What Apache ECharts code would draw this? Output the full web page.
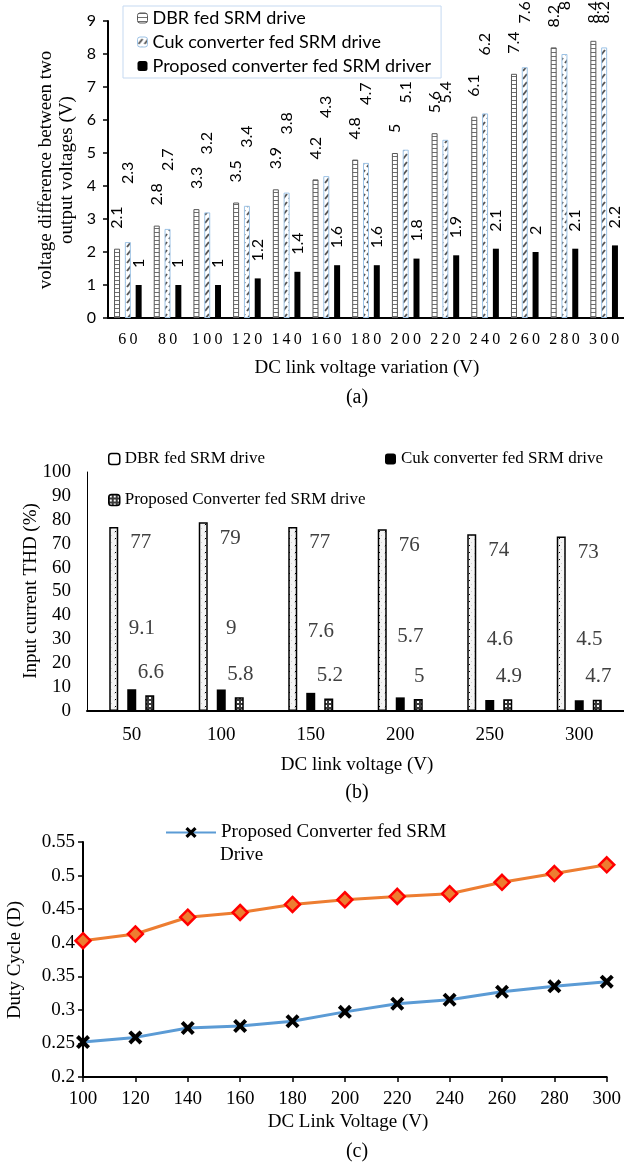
<!DOCTYPE html>
<html>
<head>
<meta charset="utf-8">
<script src="https://cdn.jsdelivr.net/npm/echarts@6/dist/echarts.min.js"></script>
<style>
html,body{margin:0;padding:0;background:#fff;}
#c{width:624px;height:1166px;}
</style>
</head>
<body>
<div id="c"></div>
<script>
// ---------- Data ----------
// (a) voltage difference between two output voltages
const catsA = ['60','80','100','120','140','160','180','200','220','240','260','280','300'];
const dbrA  = [2.1, 2.8, 3.3, 3.5, 3.9, 4.2, 4.8, 5, 5.6, 6.1, 7.4, 8.2, 8.4];
const cukA  = [2.3, 2.7, 3.2, 3.4, 3.8, 4.3, 4.7, 5.1, 5.4, 6.2, 7.6, 8, 8.2];
const propA = [1, 1, 1, 1.2, 1.4, 1.6, 1.6, 1.8, 1.9, 2.1, 2, 2.1, 2.2];
const namesA = ['DBR fed SRM drive', 'Cuk converter fed SRM drive', 'Proposed converter fed SRM driver'];

// (b) input current THD
const catsB = ['50','100','150','200','250','300'];
const dbrB  = [77, 79, 77, 76, 74, 73];
const cukB  = [9.1, 9, 7.6, 5.7, 4.6, 4.5];
const propB = [6.6, 5.8, 5.2, 5, 4.9, 4.7];
const namesB = ['DBR fed SRM drive', 'Cuk converter fed SRM drive', 'Proposed Converter fed SRM drive'];

// (c) duty cycle
const catsC = ['100','120','140','160','180','200','220','240','260','280','300'];
const dutyProposed = [0.252, 0.259, 0.273, 0.276, 0.283, 0.297, 0.309, 0.315, 0.327, 0.335, 0.342];
const dutyOther    = [0.403, 0.413, 0.438, 0.445, 0.457, 0.464, 0.469, 0.473, 0.490, 0.503, 0.516];
const nameC1 = 'Proposed Converter fed SRM Drive';
const nameC2 = 'Series 2';

// ---------- Patterns ----------
function pat(w, h, draw) {
  const c = document.createElement('canvas');
  c.width = w; c.height = h;
  const g = c.getContext('2d');
  draw(g);
  return { image: c, repeat: 'repeat' };
}
const patDbrA = pat(6, 4, g => { g.fillStyle = '#fff'; g.fillRect(0,0,6,4); g.fillStyle = '#6e6e6e'; g.fillRect(0,0,6,1); });
const patCukA = pat(6, 8, g => { g.fillStyle = '#fff'; g.fillRect(0,0,6,8); g.strokeStyle = '#555'; g.lineWidth = 2; g.beginPath(); g.moveTo(1,7); g.lineTo(5,2); g.stroke(); });
const patDbrB = pat(6, 7, g => { g.fillStyle = '#f4f4f4'; g.fillRect(0,0,6,7); g.fillStyle = '#cfcfcf'; g.fillRect(0,0,1,1); g.fillRect(3,3,1,1); g.fillStyle = '#000'; g.fillRect(1,6,1,1); });
const patPropB = pat(4, 4, g => { g.fillStyle = '#3a3a3a'; g.fillRect(0,0,4,4); g.fillStyle = '#fff'; g.fillRect(1,1,2,2); });

// ---------- Label placement helpers for (a) ----------
const gridA = { left: 108, top: 21, width: 520, height: 297 };
const maxA = 9;
const legendABottom = 80, legendARight = 450;
function yPxA(v) { return gridA.top + (maxA - v) * gridA.height / maxA; }
function xPxA(i) { return gridA.left + (i + 0.5) * gridA.width / catsA.length; }
function labLen(v) { const s = String(v); let l = 0; for (const ch of s) l += (ch === '.') ? 4 : 9.3; return l; }
function dataA(arr, gap) {
  return arr.map((v, i) => {
    const minTop = xPxA(i) < legendARight ? legendABottom : 0;
    const d = Math.max(2, Math.min(gap, yPxA(v) - labLen(v) - minTop - 1));
    return { value: v, label: { distance: d } };
  });
}

const serif = 'Liberation Serif';
const sans = 'Lato';

const labelA = { show: true, position: 'top', rotate: 90, align: 'left', verticalAlign: 'middle', fontFamily: sans, fontSize: 16, color: '#000' };
const labelB = { show: true, position: 'top', distance: 0, align: 'center', verticalAlign: 'middle', fontFamily: serif, fontSize: 21, color: '#404040' };

const option = {
  animation: false,
  backgroundColor: '#fff',
  grid: [
    { left: gridA.left, top: gridA.top, width: gridA.width, height: gridA.height },
    { left: 87, top: 472, width: 540, height: 239 },
    { left: 83, top: 842, width: 527, height: 235 }
  ],
  xAxis: [
    { gridIndex: 0, type: 'category', data: catsA,
      axisLine: { lineStyle: { color: '#000', width: 2 } }, axisTick: { show: false },
      axisLabel: { fontFamily: serif, fontSize: 16, color: '#000', margin: 14, formatter: v => v.split('').join('\u2009') } },
    { gridIndex: 1, type: 'category', data: catsB,
      axisLine: { lineStyle: { color: '#000', width: 2 } }, axisTick: { show: false },
      axisLabel: { fontFamily: serif, fontSize: 19, color: '#000', margin: 15 } },
    { gridIndex: 2, type: 'category', data: catsC, boundaryGap: false,
      axisLine: { lineStyle: { color: '#000', width: 2 } },
      axisTick: { show: true, length: 5, lineStyle: { color: '#000', width: 1.5 } },
      axisLabel: { fontFamily: serif, fontSize: 19, color: '#000', margin: 13 } }
  ],
  yAxis: [
    { gridIndex: 0, type: 'value', min: 0, max: 9, interval: 1,
      splitLine: { show: false },
      axisLine: { show: true, lineStyle: { color: '#000', width: 2 } },
      axisTick: { show: true, length: 5, lineStyle: { color: '#000', width: 1.5 } },
      axisLabel: { fontFamily: sans, fontSize: 16, color: '#000', margin: 12 } },
    { gridIndex: 1, type: 'value', min: 0, max: 100, interval: 10,
      splitLine: { show: false },
      axisLine: { show: true, lineStyle: { color: '#000', width: 1 } },
      axisTick: { show: false },
      axisLabel: { fontFamily: serif, fontSize: 19, color: '#000', margin: 16 } },
    { gridIndex: 2, type: 'value', min: 0.2, max: 0.55, interval: 0.05,
      splitLine: { show: false },
      axisLine: { show: true, lineStyle: { color: '#000', width: 2 } },
      axisTick: { show: true, length: 5, lineStyle: { color: '#000', width: 1.5 } },
      axisLabel: { fontFamily: serif, fontSize: 19, color: '#000', margin: 8 } }
  ],
  legend: [
    { orient: 'vertical', left: 123, top: 6, padding: [3, 10, 3, 14], itemGap: 6,
      itemWidth: 10, itemHeight: 10, backgroundColor: '#fff', borderColor: '#c5d9f1', borderWidth: 1,
      textStyle: { fontFamily: sans, fontSize: 18, color: '#000', lineHeight: 18 },
      data: namesA.map((n, i) => ({ name: n, itemStyle: [
        { color: patDbrA, borderColor: '#595959', borderWidth: 1 },
        { color: patCukA, borderColor: '#9dc3e6', borderWidth: 1 },
        { color: '#000', borderWidth: 0 }][i] })) },
    { orient: 'vertical', left: 108, top: 450, padding: 0, itemGap: 23,
      itemWidth: 11, itemHeight: 11,
      textStyle: { fontFamily: serif, fontSize: 17, color: '#000', lineHeight: 18 },
      data: [
        { name: namesB[0], itemStyle: { color: '#fff', borderColor: '#000', borderWidth: 1.5 } },
        { name: namesB[2], itemStyle: { color: patPropB, borderColor: '#000', borderWidth: 1.5 } }
      ] },
    { orient: 'vertical', left: 385, top: 450, padding: 0,
      itemWidth: 11, itemHeight: 11,
      textStyle: { fontFamily: serif, fontSize: 17, color: '#000', lineHeight: 18 },
      data: [ { name: namesB[1], itemStyle: { color: '#000', borderWidth: 0 } } ] },
    { orient: 'horizontal', left: 165, top: 823, padding: 0,
      itemWidth: 50, itemHeight: 14,
      textStyle: { fontFamily: serif, fontSize: 19, color: '#000', lineHeight: 18 },
      formatter: () => 'Proposed Converter fed SRM',
      data: [ { name: nameC1 } ] }
  ],
  series: [
    // (a)
    { name: namesA[0], type: 'bar', xAxisIndex: 0, yAxisIndex: 0, barWidth: 6, barGap: '80%',
      itemStyle: { color: patDbrA, borderColor: '#595959', borderWidth: 1 },
      label: labelA, data: dataA(dbrA, 20) },
    { name: namesA[1], type: 'bar', xAxisIndex: 0, yAxisIndex: 0, barWidth: 6, barGap: '80%',
      itemStyle: { color: patCukA, borderColor: '#9dc3e6', borderWidth: 1 },
      label: labelA, data: dataA(cukA, 58) },
    { name: namesA[2], type: 'bar', xAxisIndex: 0, yAxisIndex: 0, barWidth: 6, barGap: '80%',
      itemStyle: { color: '#000' },
      label: labelA, data: dataA(propA, 17) },
    // (b)
    { name: namesB[0], type: 'bar', xAxisIndex: 1, yAxisIndex: 1, barWidth: 9, barGap: '100%',
      itemStyle: { color: patDbrB, borderColor: '#000', borderWidth: 1.5 },
      label: Object.assign({}, labelB, { offset: [27, 16] }), data: dbrB },
    { name: namesB[1], type: 'bar', xAxisIndex: 1, yAxisIndex: 1, barWidth: 9, barGap: '100%',
      itemStyle: { color: '#000' },
      label: Object.assign({}, labelB, { offset: [10, -61] }), data: cukB },
    { name: namesB[2], type: 'bar', xAxisIndex: 1, yAxisIndex: 1, barWidth: 9, barGap: '100%',
      itemStyle: { color: patPropB, borderColor: '#000', borderWidth: 1.5 },
      label: Object.assign({}, labelB, { offset: [1, -23] }), data: propB },
    // (c)
    { name: nameC1, type: 'line', xAxisIndex: 2, yAxisIndex: 2, data: dutyProposed,
      lineStyle: { color: '#5b9bd5', width: 3 },
      symbol: 'path://M2,0 L5,3 L8,0 L10,2 L7,5 L10,8 L8,10 L5,7 L2,10 L0,8 L3,5 L0,2 Z',
      symbolSize: 14, itemStyle: { color: '#000' } },
    { name: nameC2, type: 'line', xAxisIndex: 2, yAxisIndex: 2, data: dutyOther,
      lineStyle: { color: '#ed7d31', width: 3 },
      symbol: 'diamond', symbolSize: 15,
      itemStyle: { color: '#ed7d31', borderColor: '#ff0000', borderWidth: 2.5 } }
  ],
  graphic: [
    { type: 'text', x: 57, y: 170, rotation: Math.PI / 2,
      style: { text: 'voltage difference between two\noutput voltages (V)', fontFamily: serif, fontSize: 19, lineHeight: 21, fill: '#000', align: 'center', verticalAlign: 'middle' } },
    { type: 'text', x: 367, y: 368, style: { text: 'DC link voltage variation (V)', fontFamily: serif, fontSize: 19, fill: '#000', align: 'center', verticalAlign: 'middle' } },
    { type: 'text', x: 357, y: 398, style: { text: '(a)', fontFamily: serif, fontSize: 20, fill: '#000', align: 'center', verticalAlign: 'middle' } },
    { type: 'text', x: 31, y: 591, rotation: Math.PI / 2,
      style: { text: 'Input current THD (%)', fontFamily: serif, fontSize: 19, fill: '#000', align: 'center', verticalAlign: 'middle' } },
    { type: 'text', x: 357, y: 765, style: { text: 'DC link voltage (V)', fontFamily: serif, fontSize: 19, fill: '#000', align: 'center', verticalAlign: 'middle' } },
    { type: 'text', x: 357, y: 793, style: { text: '(b)', fontFamily: serif, fontSize: 20, fill: '#000', align: 'center', verticalAlign: 'middle' } },
    { type: 'text', x: 15, y: 960, rotation: Math.PI / 2,
      style: { text: 'Duty Cycle (D)', fontFamily: serif, fontSize: 19, fill: '#000', align: 'center', verticalAlign: 'middle' } },
    { type: 'text', x: 348, y: 1122, style: { text: 'DC Link Voltage (V)', fontFamily: serif, fontSize: 19, fill: '#000', align: 'center', verticalAlign: 'middle' } },
    { type: 'text', x: 357, y: 1152, style: { text: '(c)', fontFamily: serif, fontSize: 20, fill: '#000', align: 'center', verticalAlign: 'middle' } },
    { type: 'text', x: 220, y: 855, style: { text: 'Drive', fontFamily: serif, fontSize: 19, fill: '#000', align: 'left', verticalAlign: 'middle' } }
  ]
};

const chart = echarts.init(document.getElementById('c'), null, { renderer: 'canvas', width: 624, height: 1166 });
chart.setOption(option);
</script>
</body>
</html>
